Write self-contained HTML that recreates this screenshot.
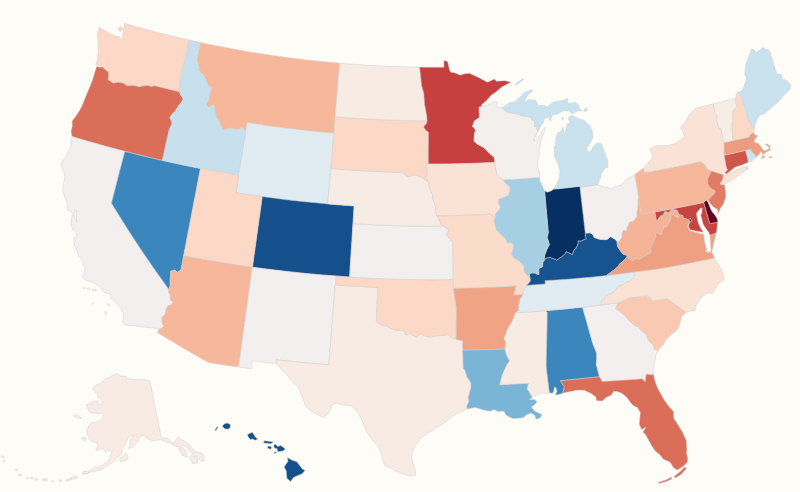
<!DOCTYPE html>
<html><head><meta charset="utf-8"><title>US map</title>
<style>
html,body{margin:0;padding:0;background:#fdfcf7;}
body{width:800px;height:492px;overflow:hidden;font-family:"Liberation Sans",sans-serif;}
svg{display:block}
path{stroke:#cfcfcf;stroke-width:0.5;stroke-linejoin:round}
</style></head><body>
<svg width="800" height="492" viewBox="0 0 800 492">
<rect width="800" height="492" fill="#fdfcf7" stroke="none"/>
<g>
<path d="M124.3,23.3L123.6,30.0L122.6,36.0L121.8,41.2L120.9,41.2L120.3,37.5L119.0,36.8L115.5,36.3L109.4,33.3L104.0,30.0L99.4,27.2L98.2,31.0L97.3,35.3L98.2,41.0L98.0,46.5L98.2,52.1L97.6,56.5L97.1,60.9L95.8,64.6L99.1,65.2L102.3,67.1L105.4,69.8L108.5,72.2L108.6,76.3L108.2,79.8L113.1,83.1L118.4,82.2L123.3,83.0L127.1,85.7L134.1,85.5L138.9,86.8L142.9,86.1L146.9,85.4L151.7,86.4L154.4,85.8L160.6,87.3L166.8,88.8L173.0,90.2L179.2,91.7L179.2,89.5L179.9,86.9L179.4,84.1L181.4,75.3L183.4,66.4L185.4,57.6L187.4,48.8L189.3,40.0L182.8,38.5L176.3,37.0L169.7,35.4L163.2,33.8L156.7,32.2L150.2,30.5L143.7,28.7L137.2,27.0L130.8,25.1ZM118.2,28.2L121.5,26.6L122.6,28.8L121.2,31.3L118.8,30.6Z" fill="#fbd9c6"/>
<path d="M96.8,66.3L99.7,67.2L102.3,67.1L105.4,69.8L108.5,72.2L108.6,76.3L108.2,79.8L113.1,83.1L118.4,82.2L123.3,83.0L127.1,85.7L134.1,85.5L138.9,86.8L142.9,86.1L146.9,85.4L151.7,86.4L154.4,85.8L160.6,87.3L166.8,88.8L173.0,90.2L179.2,91.7L180.4,94.4L182.1,96.8L183.1,99.7L181.5,102.1L179.0,105.3L176.1,109.6L175.0,111.7L172.7,113.3L169.8,117.6L171.9,121.7L171.8,124.4L169.5,128.8L167.7,136.7L165.9,144.6L164.2,152.5L162.4,160.5L154.8,158.7L147.2,156.9L139.6,155.1L132.1,153.2L124.5,151.3L117.0,149.3L109.4,147.3L101.9,145.3L94.4,143.1L86.9,141.0L79.5,138.8L72.0,136.5L71.0,131.5L72.3,126.4L72.1,120.9L75.7,116.3L79.3,110.9L82.3,105.3L84.5,99.5L87.2,92.9L89.6,87.2L91.9,81.4L93.6,76.4L95.3,70.5Z" fill="#db6e59"/>
<path d="M72.0,136.5L70.8,140.8L70.8,146.4L67.9,152.7L65.9,157.0L61.4,162.3L61.1,165.7L63.5,170.8L64.9,176.2L64.0,181.5L62.6,190.4L64.9,197.6L68.0,204.1L66.9,209.3L70.2,211.2L72.9,214.4L74.2,213.7L75.6,210.9L76.9,211.3L76.1,214.7L76.5,219.5L77.2,222.1L76.1,220.9L74.6,217.1L74.1,215.1L72.6,215.2L71.3,219.9L71.2,225.4L73.4,230.3L76.9,233.5L76.6,237.1L74.2,237.7L73.6,242.7L76.2,249.0L78.8,255.8L83.1,261.6L82.6,264.6L85.3,267.3L84.4,271.5L82.7,277.0L84.6,279.9L91.2,281.4L95.2,283.5L100.2,287.2L102.3,290.8L106.2,293.2L110.4,294.1L110.8,298.7L113.6,299.8L116.7,303.4L119.5,306.6L123.0,312.2L123.2,318.6L122.9,321.8L124.1,324.6L131.2,325.5L138.2,326.4L145.3,327.2L152.4,328.0L159.5,328.7L161.0,328.8L163.6,326.6L162.3,323.6L161.9,320.5L162.1,316.9L165.2,313.9L166.3,308.7L168.3,305.8L170.6,305.0L173.2,302.8L170.3,299.5L170.2,294.9L168.6,291.9L168.7,289.2L161.9,279.8L155.2,270.3L148.6,260.8L142.1,251.2L135.8,241.7L129.5,232.1L123.4,222.4L117.4,212.8L111.4,203.1L113.7,194.5L115.9,185.8L118.1,177.2L120.3,168.6L122.6,160.0L124.8,151.4L118.2,149.7L111.5,147.9L104.9,146.1L98.3,144.2L91.7,142.4L85.1,140.5L78.6,138.5ZM85.2,288.2L84.8,288.6L84.0,288.6L83.3,288.3L83.0,287.8L83.4,287.4L84.2,287.4L84.9,287.7ZM90.2,289.2L89.6,289.8L88.4,289.9L87.4,289.4L87.0,288.6L87.6,288.0L88.8,287.9L89.8,288.4ZM96.7,290.3L95.9,290.9L94.2,290.9L92.5,290.4L91.9,289.7L92.7,289.1L94.4,289.1L96.1,289.6ZM93.7,303.7L93.4,304.0L92.7,304.0L92.2,303.6L92.1,303.1L92.4,302.8L93.1,302.8L93.6,303.2ZM110.1,306.0L109.3,306.0L108.2,305.3L107.3,304.3L107.1,303.6L107.9,303.6L109.0,304.3L109.9,305.3ZM106.3,314.9L105.7,314.5L105.0,313.3L104.8,312.0L105.1,311.3L105.7,311.7L106.4,312.9L106.6,314.2Z" fill="#f2efee"/>
<path d="M124.8,151.4L132.3,153.3L139.8,155.2L147.4,157.0L154.9,158.8L162.5,160.5L170.1,162.2L177.7,163.8L185.3,165.4L192.9,166.9L200.5,168.4L198.6,178.1L196.8,187.8L194.9,197.5L193.0,207.2L191.2,217.0L189.3,226.7L187.4,236.4L185.6,246.1L183.7,255.8L182.3,262.8L181.0,269.8L177.5,272.4L175.0,270.1L170.7,271.1L170.5,275.0L170.2,279.5L170.2,285.9L168.7,289.2L161.9,279.8L155.2,270.3L148.6,260.8L142.1,251.2L135.8,241.7L129.5,232.1L123.4,222.4L117.4,212.8L111.4,203.1L113.7,194.5L115.9,185.8L118.1,177.2L120.3,168.6L122.6,160.0Z" fill="#3b86bc"/>
<path d="M189.3,40.0L195.0,41.3L200.7,42.5L198.9,51.0L197.0,59.6L199.2,68.1L199.0,70.2L203.1,74.3L206.1,79.4L207.8,84.6L209.5,86.7L212.5,86.9L209.6,94.4L209.2,99.7L206.3,104.6L208.3,107.3L213.9,104.4L215.2,110.8L217.0,118.0L219.3,121.3L221.6,127.8L223.1,129.9L230.5,127.7L236.6,129.5L240.5,128.7L241.2,126.9L243.5,127.9L245.7,131.9L244.4,140.5L243.0,149.2L241.6,157.8L240.2,166.5L238.8,175.1L231.1,173.9L223.5,172.6L215.8,171.2L208.1,169.8L200.5,168.4L192.8,166.9L185.2,165.4L177.6,163.8L170.0,162.1L162.4,160.5L164.2,152.5L165.9,144.6L167.7,136.7L169.5,128.8L171.8,124.4L171.9,121.7L169.8,117.6L172.7,113.3L175.0,111.7L176.1,109.6L179.0,105.3L181.5,102.1L183.1,99.7L182.1,96.8L180.4,94.4L179.2,91.7L179.2,89.5L179.9,86.9L179.4,84.1L181.4,75.3L183.4,66.4L185.4,57.6L187.4,48.8Z" fill="#c8e0ed"/>
<path d="M200.7,42.5L207.2,43.9L213.8,45.2L220.4,46.5L226.9,47.8L233.5,49.0L240.1,50.2L246.7,51.4L253.3,52.5L259.9,53.5L266.6,54.6L273.2,55.5L279.8,56.5L286.5,57.4L293.1,58.3L299.7,59.1L306.4,59.9L313.1,60.6L319.7,61.3L326.4,62.0L333.1,62.6L339.7,63.2L338.9,73.2L338.0,83.1L337.2,93.1L336.3,103.1L335.5,113.1L334.6,123.2L333.8,133.2L326.5,132.6L319.3,131.9L312.1,131.2L304.8,130.4L297.6,129.6L290.4,128.7L283.2,127.8L276.0,126.9L268.8,125.9L261.6,124.8L254.4,123.8L247.2,122.6L245.7,131.9L243.5,127.9L241.2,126.9L240.5,128.7L236.6,129.5L230.5,127.7L223.1,129.9L221.6,127.8L219.3,121.3L217.0,118.0L215.2,110.8L213.9,104.4L208.3,107.3L206.3,104.6L209.2,99.7L209.6,94.4L212.5,86.9L209.5,86.7L207.8,84.6L206.1,79.4L203.1,74.3L199.0,70.2L199.2,68.1L197.0,59.6L198.9,51.0Z" fill="#f6b79b"/>
<path d="M247.2,122.6L254.4,123.8L261.6,124.8L268.8,125.9L276.0,126.9L283.2,127.8L290.4,128.7L297.6,129.6L304.8,130.4L312.1,131.2L319.3,131.9L326.5,132.6L333.8,133.2L332.9,143.3L332.1,153.4L331.2,163.4L330.4,173.6L329.5,183.7L328.6,193.8L327.8,203.9L320.1,203.2L312.4,202.5L304.8,201.7L297.1,200.9L289.5,200.1L281.8,199.2L274.2,198.2L266.5,197.2L258.9,196.1L251.3,195.0L243.6,193.9L236.0,192.7L237.6,182.7L239.2,172.6L240.8,162.6L242.4,152.6L244.0,142.6L245.6,132.6Z" fill="#e1ecf2"/>
<path d="M262.2,196.6L269.8,197.6L277.4,198.6L285.1,199.6L292.7,200.4L300.4,201.3L308.1,202.1L315.7,202.8L323.4,203.5L331.1,204.2L338.8,204.8L346.4,205.4L354.1,205.9L353.5,216.0L352.8,226.2L352.2,236.3L351.5,246.5L350.9,256.7L350.2,266.8L349.6,277.0L341.5,276.4L333.3,275.8L325.2,275.2L317.1,274.5L309.0,273.8L300.9,273.0L292.8,272.1L284.7,271.2L276.6,270.3L268.5,269.3L260.5,268.3L252.4,267.2L253.8,257.1L255.2,247.0L256.6,236.9L258.0,226.8L259.4,216.8L260.8,206.7Z" fill="#16508c"/>
<path d="M200.5,168.4L208.1,169.8L215.8,171.2L223.5,172.6L231.1,173.9L238.8,175.1L237.4,183.9L236.0,192.7L242.5,193.7L249.1,194.7L255.6,195.7L262.2,196.6L260.8,206.7L259.4,216.8L258.0,226.8L256.6,236.9L255.2,247.0L253.8,257.1L252.4,267.2L244.7,266.1L237.1,265.0L229.4,263.8L221.8,262.6L214.2,261.3L206.5,260.0L198.9,258.7L191.3,257.3L183.7,255.8L185.6,246.1L187.4,236.4L189.3,226.7L191.2,217.0L193.0,207.2L194.9,197.5L196.8,187.8L198.6,178.1Z" fill="#fbd9c6"/>
<path d="M183.7,255.8L191.3,257.3L198.9,258.7L206.5,260.0L214.2,261.3L221.8,262.6L229.4,263.8L237.1,265.0L244.7,266.1L252.4,267.2L251.0,277.2L249.6,287.2L248.3,297.2L246.9,307.2L245.5,317.2L244.1,327.2L242.7,337.1L241.4,347.1L240.0,357.1L238.6,367.0L231.1,366.0L223.6,364.9L216.1,363.7L208.6,362.6L201.2,358.4L193.8,354.2L186.4,349.9L179.1,345.6L171.8,341.2L164.6,336.9L157.4,332.4L159.5,328.7L161.0,328.8L163.6,326.6L162.3,323.6L161.9,320.5L162.1,316.9L165.2,313.9L166.3,308.7L168.3,305.8L170.6,305.0L173.2,302.8L170.3,299.5L170.2,294.9L168.6,291.9L168.7,289.2L170.2,285.9L170.2,279.5L170.5,275.0L170.7,271.1L175.0,270.1L177.5,272.4L181.0,269.8L182.3,262.8Z" fill="#f6b79b"/>
<path d="M252.4,267.2L260.0,268.2L267.6,269.2L275.2,270.1L282.9,271.0L290.5,271.9L298.1,272.7L305.8,273.5L313.4,274.2L321.1,274.9L328.7,275.5L336.4,276.1L335.7,285.0L335.1,284.9L334.4,294.9L333.6,304.9L332.8,314.9L332.0,324.9L331.3,334.8L330.5,344.8L329.7,354.7L328.9,364.7L320.1,364.0L311.3,363.3L302.5,362.5L293.7,361.6L284.9,360.7L276.1,359.8L277.0,363.8L268.7,362.8L260.4,361.8L252.1,360.8L251.1,368.7L244.9,367.9L238.6,367.0L240.0,357.1L241.4,347.1L242.7,337.1L244.1,327.2L245.5,317.2L246.9,307.2L248.3,297.2L249.6,287.2L251.0,277.2Z" fill="#f2efee"/>
<path d="M335.1,284.9L342.2,285.4L349.4,285.9L356.5,286.3L363.6,286.7L370.7,287.1L377.8,287.4L377.4,296.0L377.1,304.7L376.7,313.3L376.3,321.9L382.0,325.3L387.7,326.3L391.3,328.9L396.7,330.3L403.5,330.4L405.6,334.9L409.7,333.2L416.5,337.4L420.2,333.9L425.7,336.3L431.1,337.2L436.9,335.7L444.2,335.4L447.8,334.4L452.2,337.8L456.2,339.3L462.6,340.8L462.8,350.2L463.0,359.2L463.2,368.3L465.3,370.9L467.0,377.1L470.8,382.6L471.0,387.6L468.2,397.4L469.0,401.8L466.8,405.4L467.1,408.9L458.6,412.6L453.2,415.7L447.9,420.2L444.8,422.8L439.8,425.8L434.8,428.7L427.8,433.1L420.7,438.3L417.5,442.3L414.3,447.0L412.2,452.3L411.8,458.4L413.3,464.6L415.3,470.7L415.6,474.9L409.9,475.9L400.4,472.9L394.7,470.1L389.0,467.2L384.6,465.6L382.2,457.7L380.6,452.3L378.9,447.0L373.7,441.5L367.0,432.8L364.2,425.3L361.4,419.2L358.6,413.2L351.4,405.7L346.4,405.2L341.4,404.8L337.0,402.9L331.8,405.0L328.2,413.4L323.6,417.8L316.9,414.3L311.0,410.8L305.5,406.1L301.9,395.7L297.9,386.1L292.2,381.6L286.2,373.7L281.4,369.8L277.4,364.4L277.0,363.8L276.1,359.8L284.9,360.7L293.7,361.6L302.5,362.5L311.3,363.3L320.1,364.0L328.9,364.7L329.7,354.7L330.5,344.8L331.3,334.8L332.0,324.9L332.8,314.9L333.6,304.9L334.4,294.9Z" fill="#f8ebe4"/>
<path d="M336.4,276.1L344.7,276.7L353.0,277.2L361.4,277.7L369.7,278.1L378.1,278.5L386.4,278.8L394.8,279.1L403.1,279.3L411.5,279.5L419.8,279.6L428.2,279.7L436.5,279.7L444.9,279.6L453.2,279.5L453.4,288.4L454.9,298.3L456.4,308.2L456.3,318.5L456.2,328.9L456.2,339.3L452.2,337.8L447.8,334.4L444.2,335.4L436.9,335.7L431.1,337.2L425.7,336.3L420.2,333.9L416.5,337.4L409.7,333.2L405.6,334.9L403.5,330.4L396.7,330.3L391.3,328.9L387.7,326.3L382.0,325.3L376.3,321.9L376.7,313.3L377.1,304.7L377.4,296.0L377.8,287.4L370.8,287.1L363.8,286.7L356.7,286.3L349.7,285.9L342.7,285.5L335.7,285.0Z" fill="#fbd9c6"/>
<path d="M353.0,223.6L360.5,224.1L368.0,224.5L375.5,224.9L383.0,225.2L390.6,225.5L398.1,225.7L405.6,225.9L413.1,226.0L420.7,226.1L428.2,226.2L435.7,226.2L443.2,226.2L446.7,228.3L449.2,230.2L446.1,234.0L448.9,238.2L452.8,241.9L452.9,251.3L453.0,260.7L453.1,270.1L453.2,279.5L445.3,279.6L437.3,279.7L429.3,279.7L421.3,279.6L413.4,279.5L405.4,279.4L397.4,279.2L389.4,278.9L381.5,278.6L373.5,278.3L365.5,277.9L357.6,277.5L349.6,277.0L350.2,268.1L350.7,259.2L351.3,250.3L351.9,241.4L352.4,232.5Z" fill="#f2efee"/>
<path d="M330.8,168.5L337.9,169.1L345.0,169.6L352.1,170.1L359.2,170.6L366.3,171.0L373.4,171.4L380.5,171.7L387.7,172.0L394.8,172.2L401.9,172.4L404.4,174.3L408.2,176.7L412.8,175.3L416.0,175.0L421.1,177.1L424.9,179.9L428.3,181.9L429.4,187.1L430.7,190.6L432.7,195.1L432.7,198.6L435.0,203.8L435.6,208.4L436.0,214.1L437.0,215.9L440.0,221.4L441.7,225.3L443.2,226.2L435.7,226.2L428.2,226.2L420.7,226.1L413.1,226.0L405.6,225.9L398.1,225.7L390.6,225.5L383.0,225.2L375.5,224.9L368.0,224.5L360.5,224.1L353.0,223.6L353.6,214.8L354.1,205.9L347.5,205.4L340.9,205.0L334.4,204.5L327.8,203.9L328.5,195.1L329.3,186.2L330.0,177.3Z" fill="#f7ece5"/>
<path d="M335.2,116.7L342.2,117.3L349.3,117.8L356.4,118.3L363.4,118.7L370.5,119.1L377.6,119.5L384.6,119.8L391.7,120.1L398.8,120.3L405.9,120.5L412.9,120.7L420.0,120.8L427.1,120.8L426.5,123.3L423.6,126.8L425.6,130.2L428.4,132.1L428.4,142.7L428.3,153.4L428.3,164.0L426.3,164.0L426.6,167.5L427.3,172.0L426.0,177.6L428.3,181.9L424.9,179.9L421.1,177.1L416.0,175.0L412.8,175.3L408.2,176.7L404.4,174.3L401.9,172.4L394.8,172.2L387.7,172.0L380.5,171.7L373.4,171.4L366.3,171.0L359.2,170.6L352.1,170.1L345.0,169.6L337.9,169.1L330.8,168.5L331.7,158.1L332.6,147.7L333.4,137.4L334.3,127.0Z" fill="#fbd9c6"/>
<path d="M339.7,63.2L346.4,63.8L353.0,64.3L359.7,64.7L366.3,65.2L373.0,65.5L379.6,65.9L386.3,66.2L392.9,66.5L399.6,66.7L406.2,66.9L412.9,67.0L419.6,67.1L420.6,75.9L421.7,86.0L423.8,93.4L424.2,98.8L424.5,104.3L425.6,109.7L426.6,115.0L427.1,120.8L420.0,120.8L412.9,120.7L405.9,120.5L398.8,120.3L391.7,120.1L384.6,119.8L377.6,119.5L370.5,119.1L363.4,118.7L356.4,118.3L349.3,117.8L342.2,117.3L335.2,116.7L335.9,107.7L336.7,98.8L337.5,89.9L338.2,81.0L339.0,72.1Z" fill="#f8ebe4"/>
<path d="M419.6,67.1L425.7,67.2L431.8,67.2L437.9,67.2L443.9,67.2L443.9,60.5L446.2,60.9L447.8,61.9L449.2,68.8L450.5,72.0L455.2,73.1L460.0,75.1L464.7,73.8L469.4,73.3L475.4,76.0L479.0,77.7L483.2,79.9L487.5,82.2L494.5,79.0L496.4,81.2L500.8,80.9L505.3,80.7L510.1,82.1L511.3,82.0L506.5,84.5L501.7,87.0L496.3,91.7L490.9,95.5L486.3,100.7L481.3,105.1L482.4,106.3L479.1,107.3L479.5,117.5L474.5,120.9L472.5,126.2L475.5,129.7L474.4,135.0L474.0,141.2L477.5,144.3L483.9,147.4L489.1,153.0L494.2,157.2L494.9,162.5L487.5,162.8L480.1,163.1L472.7,163.4L465.3,163.6L457.9,163.8L450.5,163.9L443.1,164.0L435.7,164.0L428.3,164.0L428.3,153.4L428.4,142.7L428.4,132.1L425.6,130.2L423.6,126.8L426.5,123.3L427.1,120.8L426.6,115.0L425.6,109.7L424.5,104.3L424.2,98.8L423.8,93.4L421.7,86.0L420.6,75.9Z" fill="#c5403f"/>
<path d="M426.3,164.0L434.0,164.0L441.6,164.0L449.2,163.9L456.8,163.8L464.4,163.6L472.0,163.4L479.6,163.1L487.3,162.8L494.9,162.5L496.2,170.4L497.0,175.2L503.0,179.8L506.3,183.9L509.9,186.5L509.8,191.2L508.1,195.5L505.0,197.1L498.9,199.3L498.5,203.2L500.7,207.5L498.9,210.3L495.7,213.5L495.0,218.0L490.7,214.1L483.0,214.5L475.4,214.8L467.7,215.1L460.0,215.4L452.4,215.6L444.7,215.8L437.0,215.9L436.0,214.1L435.6,208.4L435.0,203.8L432.7,198.6L432.7,195.1L430.7,190.6L429.4,187.1L428.3,181.9L426.0,177.6L427.3,172.0L426.6,167.5Z" fill="#fae2d4"/>
<path d="M437.0,215.9L444.7,215.8L452.4,215.6L460.0,215.4L467.7,215.1L475.4,214.8L483.0,214.5L490.7,214.1L495.0,218.0L494.1,221.2L495.4,226.0L496.4,229.9L500.8,234.3L505.3,238.5L507.3,242.8L509.6,242.5L513.1,243.6L513.4,248.2L511.4,254.2L513.7,258.0L516.6,259.6L519.1,260.9L523.9,265.4L524.0,271.3L527.4,275.5L529.8,276.6L530.5,280.4L529.3,282.5L526.4,285.4L524.7,288.2L523.5,290.9L523.0,294.5L518.3,294.8L513.6,295.1L516.1,286.0L508.3,286.5L500.5,286.9L492.6,287.3L484.8,287.6L476.9,287.9L469.1,288.1L461.2,288.3L453.4,288.4L453.2,279.5L453.1,270.1L453.0,260.7L452.9,251.3L452.8,241.9L448.9,238.2L446.1,234.0L449.2,230.2L446.7,228.3L443.2,226.2L441.7,225.3L440.0,221.4Z" fill="#fbdbc9"/>
<path d="M453.4,288.4L461.2,288.3L469.1,288.1L476.9,287.9L484.8,287.6L492.6,287.3L500.5,286.9L508.3,286.5L516.1,286.0L513.6,295.1L518.3,294.8L523.0,294.5L519.8,300.1L518.8,305.5L518.8,310.3L515.6,312.8L513.7,317.4L512.1,321.6L507.9,328.4L506.0,333.9L504.0,338.4L505.7,341.9L505.0,349.0L496.6,349.4L488.1,349.7L479.7,349.9L471.2,350.1L462.8,350.2L462.6,340.8L456.2,339.3L456.2,328.9L456.3,318.5L456.4,308.2L454.9,298.3Z" fill="#f1a385"/>
<path d="M462.8,350.2L471.2,350.1L479.7,349.9L488.1,349.7L496.6,349.4L505.0,349.0L506.3,354.3L509.6,360.9L506.8,364.9L502.5,374.7L500.9,380.3L499.9,384.8L507.0,384.4L514.2,384.1L521.3,383.6L528.5,383.2L527.3,389.1L530.4,393.7L532.6,397.5L529.2,399.4L534.6,399.6L537.1,402.1L534.2,405.0L531.3,406.9L534.6,411.1L539.4,413.4L541.8,414.5L540.1,418.0L536.0,419.3L534.9,415.5L530.9,413.1L526.4,414.8L523.5,417.5L518.9,418.3L512.7,418.6L506.4,415.4L503.8,411.2L497.7,411.4L493.8,409.5L490.8,411.2L484.6,410.2L475.3,407.5L467.1,408.9L466.8,405.4L469.0,401.8L468.2,397.4L471.0,387.6L470.8,382.6L467.0,377.1L465.3,370.9L463.2,368.3L463.0,359.2Z" fill="#7ab5d5"/>
<path d="M545.7,310.7L547.2,312.5L547.1,323.2L546.9,333.9L546.6,344.6L546.4,355.3L546.2,365.9L547.2,374.9L548.3,383.9L549.4,392.8L547.1,393.4L541.7,392.9L538.8,393.7L535.1,395.2L532.6,397.5L530.4,393.7L527.3,389.1L528.5,383.2L521.3,383.6L514.2,384.1L507.0,384.4L499.9,384.8L500.9,380.3L502.5,374.7L506.8,364.9L509.6,360.9L506.3,354.3L505.0,349.0L505.7,341.9L504.0,338.4L506.0,333.9L507.9,328.4L512.1,321.6L513.7,317.4L515.6,312.8L523.1,312.4L530.6,311.9L538.2,311.3Z" fill="#f8ebe4"/>
<path d="M582.6,307.2L585.2,316.4L587.8,325.6L590.4,334.9L593.0,344.1L596.7,353.0L596.7,359.2L596.3,364.6L598.0,370.7L599.5,376.7L591.7,377.6L583.9,378.4L576.1,379.2L568.3,380.0L560.5,380.7L564.1,386.6L563.6,390.2L562.8,393.3L558.7,394.5L555.2,395.0L556.9,391.7L556.3,388.2L554.5,386.9L553.8,391.1L552.4,393.3L549.4,392.8L548.3,383.9L547.2,374.9L546.2,365.9L546.4,355.3L546.6,344.6L546.9,333.9L547.1,323.2L547.2,312.5L545.7,310.7L553.1,310.1L560.4,309.4L567.8,308.7L575.2,307.9Z" fill="#3b86bc"/>
<path d="M582.6,307.2L588.7,306.5L594.9,305.8L601.0,305.0L606.7,304.3L612.4,303.5L618.2,302.8L615.5,308.5L620.2,311.5L625.3,316.2L628.8,320.2L634.7,325.6L638.6,326.8L642.2,331.7L646.4,334.3L648.5,340.6L653.3,345.2L654.4,349.2L658.3,350.2L655.7,355.6L655.0,361.1L653.2,367.1L653.6,371.2L653.5,374.6L651.1,374.8L646.4,374.1L645.5,378.3L645.3,382.1L642.3,378.8L634.3,379.4L626.3,380.0L618.2,380.6L610.2,381.1L602.2,381.6L599.5,376.7L598.0,370.7L596.3,364.6L596.7,359.2L596.7,353.0L593.0,344.1L590.4,334.9L587.8,325.6L585.2,316.4Z" fill="#f2efee"/>
<path d="M653.5,374.6L655.2,381.7L657.8,388.4L661.0,394.2L664.2,399.9L669.3,407.1L673.5,411.6L673.8,418.3L678.3,425.3L682.7,432.5L686.4,440.8L687.0,451.4L686.2,451.7L687.8,458.3L687.5,462.0L683.3,466.2L677.5,470.0L673.7,468.0L670.0,462.0L663.3,459.2L660.0,455.0L655.0,450.8L651.7,445.8L648.7,440.4L645.8,435.0L643.0,432.0L646.0,427.0L641.7,429.7L639.2,424.2L639.4,422.3L640.3,412.4L637.3,407.5L633.5,405.7L630.9,403.0L626.5,397.0L622.2,393.5L617.3,391.5L613.5,391.4L611.6,394.9L605.8,397.7L602.3,401.0L596.6,400.7L595.7,396.7L590.7,393.2L584.2,390.3L578.1,390.1L572.9,391.0L567.6,392.0L562.8,393.3L563.6,390.2L564.1,386.6L560.5,380.7L568.3,380.0L576.1,379.2L583.9,378.4L591.7,377.6L599.5,376.7L602.2,381.6L610.2,381.1L618.2,380.6L626.3,380.0L634.3,379.4L642.3,378.8L645.3,382.1L645.5,378.3L646.4,374.1L651.1,374.8ZM685.0,466.7L686.3,468.7L680.8,474.7L675.3,478.0L674.2,476.3L679.7,472.0ZM671.7,477.0L665.8,480.0L658.7,482.2L658.7,483.5L665.8,481.7L671.7,479.0Z" fill="#db6e59"/>
<path d="M618.2,302.8L623.1,300.8L629.2,297.6L635.1,297.1L641.1,296.4L647.1,295.8L647.4,297.7L648.8,296.4L651.4,298.9L651.4,301.1L659.5,299.9L667.5,298.7L676.9,305.6L686.4,312.3L681.9,316.0L679.2,325.6L677.6,329.5L670.4,335.2L665.3,340.6L663.7,344.4L660.4,347.7L658.3,350.2L654.4,349.2L653.3,345.2L648.5,340.6L646.4,334.3L642.2,331.7L638.6,326.8L634.7,325.6L628.8,320.2L625.3,316.2L620.2,311.5L615.5,308.5Z" fill="#f9c9b1"/>
<path d="M634.2,271.9L642.0,271.0L649.8,270.0L657.6,269.0L664.6,267.8L671.5,266.6L678.4,265.3L685.3,264.0L692.6,262.5L699.9,261.0L707.2,259.5L714.6,257.9L717.5,263.6L722.1,270.2L724.2,279.8L718.4,283.4L712.5,293.8L709.8,292.5L704.3,294.5L699.5,300.0L695.6,306.2L694.9,310.9L691.3,310.7L686.4,312.3L676.9,305.6L667.5,298.7L659.5,299.9L651.4,301.1L651.4,298.9L648.8,296.4L647.4,297.7L647.1,295.8L641.1,296.4L635.1,297.1L629.2,297.6L623.1,300.8L618.2,302.8L612.4,303.5L606.7,304.3L601.0,305.0L600.8,301.4L604.1,299.2L605.8,295.4L611.3,293.5L614.5,290.7L618.8,285.6L623.0,284.7L625.5,282.5L630.3,280.9L634.6,276.1Z" fill="#fae2d4"/>
<path d="M606.4,275.6L613.4,274.7L620.3,273.8L627.3,272.9L634.2,271.9L634.6,276.1L630.3,280.9L625.5,282.5L623.0,284.7L618.8,285.6L614.5,290.7L611.3,293.5L605.8,295.4L604.1,299.2L600.8,301.4L601.0,305.0L594.9,305.8L588.7,306.5L582.6,307.2L575.2,307.9L567.8,308.7L560.4,309.4L553.1,310.1L545.7,310.7L538.2,311.3L530.6,311.9L523.1,312.4L515.6,312.8L518.8,310.3L518.8,305.5L519.8,300.1L523.0,294.5L523.5,290.9L524.7,288.2L526.4,285.4L532.7,284.9L539.0,284.4L545.3,283.9L545.0,280.7L552.3,280.3L559.7,279.8L567.0,279.3L574.0,278.7L581.0,278.1L588.0,277.5L594.1,276.9L600.2,276.3Z" fill="#e1ecf2"/>
<path d="M529.8,276.6L529.3,274.8L530.7,272.9L535.2,273.1L537.1,274.2L538.9,274.3L538.7,268.4L542.5,266.8L542.7,262.7L543.9,260.8L545.5,258.3L550.0,257.2L556.7,260.0L561.3,256.9L564.5,254.4L566.3,251.6L572.3,254.5L574.2,249.5L575.6,248.8L577.9,244.1L578.2,240.8L581.0,241.0L586.2,238.6L585.2,236.0L585.3,233.3L589.6,232.8L592.5,233.9L594.3,237.6L600.4,239.5L606.9,239.6L610.7,236.7L615.5,239.5L617.0,241.4L617.6,246.6L620.7,251.2L622.8,253.9L627.7,255.7L623.8,260.6L619.6,263.9L618.6,266.0L613.9,270.1L606.4,275.6L600.2,276.3L594.1,276.9L588.0,277.5L581.0,278.1L574.0,278.7L567.0,279.3L559.7,279.8L552.3,280.3L545.0,280.7L545.3,283.9L539.0,284.4L532.7,284.9L526.4,285.4L529.3,282.5L530.5,280.4Z" fill="#17538f"/>
<path d="M638.6,198.1L637.5,199.9L638.1,203.3L637.6,208.6L636.8,212.7L636.8,216.3L633.1,221.4L629.7,221.7L628.6,224.4L626.6,228.1L626.7,230.5L623.5,230.0L621.9,233.2L621.8,237.5L618.9,241.2L617.0,241.4L617.6,246.6L620.7,251.2L622.8,253.9L627.7,255.7L628.7,258.6L632.6,261.1L636.6,258.0L638.7,259.5L643.5,257.1L648.1,254.2L650.7,252.8L651.4,250.4L650.1,249.7L653.2,242.8L655.2,238.1L656.2,232.2L658.9,234.1L661.4,234.5L662.2,233.1L664.2,226.6L666.2,227.3L669.4,222.4L671.0,218.5L670.8,213.8L675.7,216.3L678.8,218.1L679.5,214.7L678.2,212.6L677.0,210.1L672.3,209.2L669.7,211.1L669.2,212.5L664.8,211.5L662.7,215.6L660.9,215.4L656.5,221.1L655.0,211.9L648.1,213.1L641.2,214.3L639.9,206.2Z" fill="#f5b498"/>
<path d="M606.4,275.6L613.9,270.1L618.6,266.0L619.6,263.9L623.8,260.6L627.7,255.7L628.7,258.6L632.6,261.1L636.6,258.0L638.7,259.5L643.5,257.1L648.1,254.2L650.7,252.8L651.4,250.4L650.1,249.7L653.2,242.8L655.2,238.1L656.2,232.2L658.9,234.1L661.4,234.5L662.2,233.1L664.2,226.6L666.2,227.3L669.4,222.4L671.0,218.5L670.8,213.8L675.7,216.3L678.8,218.1L679.5,214.7L682.4,215.0L683.6,217.9L687.0,219.0L689.0,219.9L690.6,222.1L688.0,223.7L687.8,227.2L690.0,230.7L695.9,232.3L703.9,234.6L704.1,238.9L705.0,243.8L706.2,248.7L707.8,252.3L706.9,250.9L704.8,250.8L707.3,252.5L711.4,251.6L714.6,257.9L707.2,259.5L699.9,261.0L692.6,262.5L685.3,264.0L678.4,265.3L671.5,266.6L664.6,267.8L657.6,269.0L649.8,270.0L642.0,271.0L634.2,271.9L627.3,272.9L620.3,273.8L613.4,274.7ZM716.3,232.8L713.5,243.8L712.0,251.7L710.7,253.3L711.1,249.9L710.5,243.8L709.9,235.2Z" fill="#ef9f82"/>
<path d="M655.0,211.9L662.0,210.7L669.0,209.4L675.9,208.1L682.9,206.7L689.9,205.3L696.8,203.9L703.7,202.4L705.8,209.5L707.8,216.6L709.9,223.7L717.8,222.1L717.8,221.2L716.6,231.6L716.3,232.8L709.9,235.2L708.7,232.2L706.2,229.1L703.2,224.3L702.0,219.4L700.7,215.1L701.7,213.3L702.2,208.2L700.5,208.2L696.5,213.3L697.1,218.2L698.3,223.0L700.7,228.5L703.4,232.2L695.9,231.1L690.4,229.8L688.5,227.0L688.8,223.7L690.6,222.1L691.9,220.0L689.8,218.4L689.0,219.9L687.0,219.0L683.6,217.9L682.4,215.0L679.5,214.7L678.2,212.6L677.0,210.1L672.3,209.2L669.7,211.1L669.2,212.5L664.8,211.5L662.7,215.6L660.9,215.4L656.5,221.1Z" fill="#c74440"/>
<path d="M689.0,219.9L689.8,218.4L691.9,220.0L690.6,222.1Z" fill="#053061"/>
<path d="M703.7,202.4L706.2,200.1L707.8,201.7L710.5,208.4L712.0,211.5L715.4,215.7L717.2,218.8L717.8,221.2L717.8,222.1L709.9,223.7L707.8,216.6L705.8,209.5Z" fill="#67001f"/>
<path d="M634.7,174.6L639.9,170.7L643.6,167.9L644.4,172.6L651.5,171.4L658.5,170.1L665.6,168.8L672.6,167.4L679.6,166.0L686.6,164.6L693.6,163.1L700.6,161.6L701.6,162.3L705.2,164.7L706.1,167.6L708.6,169.8L711.6,170.8L709.1,176.1L707.6,178.8L707.7,183.9L710.7,188.1L715.2,191.1L714.6,193.1L711.5,196.5L708.3,200.0L707.8,201.7L706.2,200.1L703.7,202.4L696.8,203.9L689.9,205.3L682.9,206.7L675.9,208.1L669.0,209.4L662.0,210.7L655.0,211.9L648.1,213.1L641.2,214.3L639.9,206.2L638.6,198.1L637.3,190.3L636.0,182.4Z" fill="#f6b79b"/>
<path d="M711.6,170.8L717.4,172.7L723.3,174.6L723.2,177.4L722.8,180.2L722.4,181.2L720.8,182.5L720.9,184.7L724.5,184.4L725.3,190.6L725.8,196.9L723.2,204.6L721.2,207.1L717.9,213.7L717.6,209.4L713.3,207.0L709.6,202.7L708.3,200.0L711.5,196.5L714.6,193.1L715.2,191.1L710.7,188.1L707.7,183.9L707.6,178.8L709.1,176.1Z" fill="#e27b63"/>
<path d="M643.6,167.9L648.2,163.1L651.3,158.8L652.9,155.2L649.6,149.0L656.1,145.8L661.9,145.7L667.8,145.6L675.2,143.7L680.8,139.3L684.3,137.0L682.7,130.9L680.3,127.3L685.1,122.5L688.9,115.1L694.9,108.7L697.0,107.9L702.5,106.5L708.1,105.2L713.7,103.8L714.8,111.9L717.3,116.7L716.6,120.5L718.0,124.8L718.8,128.2L720.9,128.6L721.7,133.0L724.1,142.4L724.1,148.8L724.2,155.2L725.4,161.9L726.6,168.5L727.8,169.7L725.0,172.4L726.5,173.9L725.3,176.5L723.7,178.2L722.9,180.2L722.8,180.2L723.2,177.4L723.3,174.6L717.4,172.7L711.6,170.8L708.6,169.8L706.1,167.6L705.2,164.7L701.6,162.3L700.6,161.6L693.6,163.1L686.6,164.6L679.6,166.0L672.6,167.4L665.6,168.8L658.5,170.1L651.5,171.4L644.4,172.6ZM725.2,175.6L730.2,173.0L735.3,170.5L740.4,168.2L743.4,166.9L748.5,166.6L745.5,168.4L749.0,168.2L745.5,170.5L740.4,174.0L735.3,177.8L730.2,181.1L725.2,183.9L721.3,184.9L720.6,183.2L722.1,180.6Z" fill="#fae3d6"/>
<path d="M724.2,155.2L731.3,153.7L738.5,152.0L745.6,150.4L747.0,155.5L748.3,160.7L748.0,162.6L745.0,163.8L742.0,165.1L735.0,167.2L731.6,169.9L726.5,173.9L725.0,172.4L727.8,169.7L726.6,168.5L725.4,161.9Z" fill="#d0554a"/>
<path d="M745.6,150.4L750.9,149.0L751.5,151.1L752.5,152.6L754.7,154.2L756.4,157.1L755.7,158.0L754.5,158.5L753.2,156.5L753.4,158.4L752.6,160.7L748.0,162.6L748.3,160.7L747.0,155.5Z" fill="#cde3ee"/>
<path d="M724.1,142.4L729.2,141.4L734.2,140.3L741.6,138.7L748.9,137.0L749.6,135.2L751.8,133.3L754.0,132.5L754.9,135.0L757.8,135.6L755.3,139.0L754.2,142.1L755.6,142.6L758.6,143.6L761.8,147.7L763.1,150.3L765.9,150.5L769.4,148.4L767.8,146.2L765.9,144.7L765.4,143.9L767.5,143.9L769.7,146.1L770.5,150.1L766.3,152.0L762.3,155.1L762.2,152.8L760.7,151.3L758.9,154.6L756.4,157.1L754.7,154.2L752.5,152.6L751.5,151.1L750.9,149.0L745.6,150.4L738.5,152.0L731.3,153.7L724.2,155.2L724.1,148.8ZM760.9,158.6L763.2,155.6L765.5,156.5L763.9,157.8ZM768.5,157.5L770.9,156.3L772.2,157.0L770.7,158.0Z" fill="#ee9c7f"/>
<path d="M713.7,103.8L719.2,102.4L724.8,101.0L730.3,99.6L735.9,98.1L735.8,102.9L737.3,105.8L732.5,111.6L733.1,117.3L732.0,123.1L732.2,129.4L732.6,133.4L732.6,138.5L734.2,140.3L729.2,141.4L724.1,142.4L721.7,133.0L720.9,128.6L718.8,128.2L718.0,124.8L716.6,120.5L717.3,116.7L714.8,111.9Z" fill="#f6ede7"/>
<path d="M735.9,98.1L736.2,94.6L737.0,92.6L739.6,91.9L741.4,97.3L743.2,102.8L745.5,110.0L747.7,117.2L748.9,121.1L752.2,126.0L754.5,128.7L754.0,132.5L751.8,133.3L749.6,135.2L748.9,137.0L741.6,138.7L734.2,140.3L732.6,138.5L732.6,133.4L732.2,129.4L732.0,123.1L733.1,117.3L732.5,111.6L737.3,105.8L735.8,102.9Z" fill="#fbd9c6"/>
<path d="M754.5,128.7L755.2,123.8L757.6,118.1L760.6,114.7L763.8,114.2L766.4,111.9L770.2,109.0L772.7,106.4L775.4,104.2L778.5,101.6L781.9,97.6L785.9,93.2L789.4,89.9L791.1,85.7L787.2,80.8L782.9,79.4L781.3,74.3L776.7,73.9L775.7,70.5L772.7,60.6L769.7,50.8L762.4,47.7L759.4,50.2L756.3,52.8L753.5,49.6L751.3,49.1L748.6,56.8L745.9,64.6L744.7,74.0L746.5,78.1L745.6,82.0L742.1,90.3L739.6,91.9L741.4,97.3L743.2,102.8L745.5,110.0L747.7,117.2L748.9,121.1L752.2,126.0Z" fill="#cae1ee"/>
<path d="M580.0,187.4L585.8,186.5L591.7,185.6L597.6,184.6L601.0,185.9L604.7,187.4L607.5,186.8L608.0,188.2L610.0,188.8L614.7,186.9L620.8,185.4L625.6,180.0L631.3,176.6L634.7,174.6L636.0,182.4L637.3,190.3L638.6,198.1L637.5,199.9L638.1,203.3L637.6,208.6L636.8,212.7L636.8,216.3L633.1,221.4L629.7,221.7L628.6,224.4L626.6,228.1L626.7,230.5L623.5,230.0L621.9,233.2L621.8,237.5L618.9,241.2L617.0,241.4L615.5,239.5L610.7,236.7L606.9,239.6L600.4,239.5L594.3,237.6L592.5,233.9L589.6,232.8L585.3,233.3L584.2,224.1L583.2,214.9L582.1,205.7L581.0,196.5Z" fill="#f2efee"/>
<path d="M544.6,190.7L547.3,192.2L551.5,190.7L553.7,189.1L560.3,188.5L566.8,187.8L573.3,187.1L579.9,186.3L580.0,187.4L581.0,196.5L582.1,205.7L583.2,214.9L584.2,224.1L585.3,233.3L585.2,236.0L586.2,238.6L581.0,241.0L578.2,240.8L577.9,244.1L575.6,248.8L574.2,249.5L572.3,254.5L566.3,251.6L564.5,254.4L561.3,256.9L556.7,260.0L550.0,257.2L545.5,258.3L543.9,260.8L544.8,254.8L546.8,249.6L549.4,244.6L547.1,237.3L548.3,232.7L547.4,222.2L546.4,211.7L545.5,201.2Z" fill="#053061"/>
<path d="M503.0,179.8L510.4,179.4L517.7,178.9L525.1,178.4L532.5,177.8L539.9,177.2L539.8,180.8L542.2,185.0L543.1,187.9L544.6,190.7L545.5,201.2L546.4,211.7L547.4,222.2L548.3,232.7L547.1,237.3L549.4,244.6L546.8,249.6L544.8,254.8L543.9,260.8L542.7,262.7L542.5,266.8L538.7,268.4L538.9,274.3L537.1,274.2L535.2,273.1L530.7,272.9L529.3,274.8L529.8,276.6L527.4,275.5L524.0,271.3L523.9,265.4L519.1,260.9L516.6,259.6L513.7,258.0L511.4,254.2L513.4,248.2L513.1,243.6L509.6,242.5L507.3,242.8L505.3,238.5L500.8,234.3L496.4,229.9L495.4,226.0L494.1,221.2L495.0,218.0L495.7,213.5L498.9,210.3L500.7,207.5L498.5,203.2L498.9,199.3L505.0,197.1L508.1,195.5L509.8,191.2L509.9,186.5L506.3,183.9Z" fill="#a7cfe4"/>
<path d="M482.4,106.3L487.4,105.4L492.1,103.0L495.7,101.3L497.5,102.2L496.6,107.5L501.9,107.8L505.8,111.6L512.1,113.0L518.4,114.3L522.3,116.1L527.2,116.4L531.0,117.2L531.5,119.6L535.0,121.3L534.6,126.6L537.4,126.7L536.4,129.5L538.4,131.1L536.7,133.9L534.3,139.0L534.0,141.2L537.1,138.3L540.6,134.8L542.6,129.8L545.5,126.9L544.1,132.3L542.0,136.9L540.6,142.2L539.3,148.9L539.2,155.0L537.6,161.5L537.8,167.7L539.8,173.1L539.9,177.2L532.5,177.8L525.1,178.4L517.7,178.9L510.4,179.4L503.0,179.8L497.0,175.2L496.2,170.4L494.9,162.5L494.2,157.2L489.1,153.0L483.9,147.4L477.5,144.3L474.0,141.2L474.4,135.0L475.5,129.7L472.5,126.2L474.5,120.9L479.5,117.5L479.1,107.3Z" fill="#f3efed"/>
<path d="M501.9,107.8L505.5,105.4L509.1,102.9L514.8,101.7L519.6,97.3L525.3,92.1L531.3,89.8L533.0,90.9L527.9,94.8L525.2,99.5L525.5,102.4L528.3,99.7L532.0,99.8L535.6,100.3L538.5,105.4L543.4,105.5L547.9,106.8L552.9,102.2L555.5,101.6L561.3,100.8L567.8,98.5L567.7,103.3L572.6,103.2L575.6,102.3L579.0,105.4L579.5,108.9L582.2,110.9L577.3,111.0L572.4,113.9L568.6,111.1L563.1,111.0L557.8,114.1L553.6,114.5L551.4,117.4L550.5,121.1L548.2,116.9L544.1,119.0L543.7,121.7L541.0,125.5L538.4,131.1L536.4,129.5L537.4,126.7L534.6,126.6L535.0,121.3L531.5,119.6L531.0,117.2L527.2,116.4L522.3,116.1L518.4,114.3L512.1,113.0L505.8,111.6ZM553.7,189.1L557.3,182.7L559.6,177.1L559.9,170.3L557.5,162.5L554.2,155.4L554.7,150.0L553.7,148.1L555.6,144.5L555.9,137.7L557.7,132.8L560.9,131.5L562.9,126.9L564.0,131.2L563.8,134.4L565.5,132.8L565.9,128.3L567.0,124.3L570.6,122.8L568.3,119.1L569.2,116.4L572.5,115.5L575.9,117.4L580.8,119.4L584.4,120.4L590.0,126.1L592.2,130.4L592.8,137.1L591.7,140.3L589.1,145.1L586.8,147.2L587.7,151.9L591.2,151.1L593.1,146.4L597.7,142.7L601.8,144.3L603.9,150.2L606.0,156.2L607.7,160.4L607.7,167.6L605.1,168.0L603.2,170.9L601.3,173.5L600.6,177.6L599.1,181.4L597.6,184.6L591.7,185.6L585.8,186.5L580.0,187.4L579.9,186.3L573.3,187.1L566.8,187.8L560.3,188.5ZM515.1,84.4L519.0,81.5L523.0,78.5L523.6,79.4L520.0,82.3L516.3,85.2ZM583.3,110.2L586.8,108.0L587.7,110.5L584.7,111.4ZM561.9,117.2L563.1,117.1L563.4,119.7L562.2,119.8Z" fill="#cae1ee"/>
<path d="M150.0,381.1L152.2,392.3L154.4,403.6L156.7,414.9L158.9,426.3L161.2,437.7L167.3,438.3L173.7,443.4L175.9,439.6L178.3,436.7L180.7,439.2L184.6,441.3L187.2,443.1L193.7,450.1L195.8,452.0L201.6,453.1L203.0,453.9L204.2,458.1L203.6,461.3L200.7,460.7L198.0,458.4L195.4,456.0L192.2,453.2L189.2,450.3L186.3,446.6L183.1,445.0L181.7,446.1L177.9,447.1L174.2,445.5L170.4,443.3L165.8,441.8L160.4,439.7L157.2,440.1L153.9,440.5L150.8,440.1L146.9,438.7L144.4,435.3L141.2,436.2L137.7,437.8L139.2,440.8L136.0,442.9L132.8,446.8L128.8,448.2L129.6,445.7L130.0,439.8L133.7,436.8L133.9,434.9L130.7,436.0L128.4,438.3L126.4,441.5L123.4,447.1L121.5,448.3L122.5,451.4L120.9,454.5L116.9,458.2L112.7,462.4L106.8,465.8L100.9,469.7L95.5,471.0L91.1,472.0L88.5,472.9L83.2,474.6L84.0,471.9L89.5,470.9L94.1,467.7L99.4,467.1L103.1,464.6L106.7,462.1L109.9,457.9L110.8,454.3L112.2,451.2L110.3,450.8L107.5,449.7L106.0,452.7L104.0,449.4L101.6,448.6L98.5,450.2L95.9,450.2L97.4,446.3L97.2,442.5L94.7,442.2L91.2,441.1L88.2,436.8L86.5,430.9L89.3,425.1L92.1,422.1L95.4,422.3L99.6,420.3L103.4,418.3L103.3,414.5L102.1,412.5L99.3,414.1L95.4,413.2L91.7,412.9L89.0,411.2L86.1,404.9L89.8,403.1L91.8,402.0L96.0,400.8L98.2,401.1L97.6,403.9L102.3,404.5L102.6,402.0L101.0,399.3L98.5,397.8L97.1,393.8L94.8,391.4L92.6,389.0L94.5,386.1L97.9,384.4L101.1,382.7L102.3,381.9L105.1,378.9L109.3,377.2L113.1,375.3L116.8,373.3L118.8,374.8L120.8,376.3L123.4,376.4L126.0,376.5L127.1,378.9L130.3,379.1L133.5,379.1L136.1,379.5L138.9,379.8L141.4,379.5L144.0,379.2L146.9,380.2ZM120.8,462.0L124.2,460.7L127.5,459.4L128.0,456.3L125.7,453.3L123.1,456.4L119.5,458.9ZM192.6,463.4L197.7,463.1L197.5,459.2L192.5,455.0L189.7,456.6ZM182.2,454.9L187.1,457.4L186.3,452.4L183.2,447.6L178.6,448.2ZM81.1,438.0L84.9,441.3L86.3,438.4L84.4,437.4ZM73.3,415.8L77.8,418.2L81.5,418.4L79.5,416.1L75.9,414.5ZM82.6,473.6L88.0,473.8L88.9,472.3L83.7,471.2ZM71.1,479.5L77.4,478.3L77.1,476.0L74.1,476.1L70.7,477.9ZM65.7,481.5L71.1,479.8L70.7,477.9L66.5,479.8ZM58.8,481.4L61.6,481.1L61.4,480.1L59.1,480.2ZM51.7,481.4L53.6,481.6L53.5,480.9L52.0,480.5ZM42.2,480.0L47.1,480.9L47.3,479.1L43.5,478.5ZM34.9,480.1L37.3,480.0L37.5,478.4L35.5,478.3ZM30.5,478.5L33.1,479.1L33.3,477.5L31.1,477.0ZM26.2,478.8L28.3,478.9L28.4,477.6L26.7,477.6ZM18.5,475.2L21.7,475.6L21.7,474.6L19.0,474.1ZM14.8,470.2L17.2,470.6L17.2,469.5L15.3,469.1ZM2.7,461.1L4.6,461.7L4.7,460.7L3.3,460.1ZM1.2,456.7L4.3,458.1L4.4,457.1L2.2,455.8Z" fill="#f8ebe4"/>
<path d="M287.4,457.5L291.8,460.1L296.8,461.8L300.5,466.5L302.2,468.8L305.0,470.5L301.9,473.9L296.9,475.9L293.5,477.6L290.6,481.4L286.9,478.4L286.5,474.5L286.3,471.0L284.1,467.0L286.8,463.1L288.0,461.5ZM273.8,447.0L274.0,444.7L275.9,444.3L277.3,446.4L280.9,445.5L285.4,448.9L282.9,451.1L277.8,451.7L276.8,448.4L274.8,448.2ZM273.5,452.9L276.0,451.7L276.5,453.1L274.3,453.4ZM267.5,446.4L270.1,446.1L271.8,447.8L270.5,449.2L267.7,448.2ZM263.3,442.9L264.3,440.8L268.5,441.2L273.3,441.9L271.0,443.8L266.8,443.3ZM247.3,434.5L252.3,432.2L255.2,436.8L257.7,439.2L255.1,440.3L252.4,439.0L250.1,439.4L248.1,436.6ZM227.2,422.9L230.5,424.7L230.0,427.9L228.0,429.2L224.7,428.7L222.4,426.4L223.9,424.0ZM214.8,430.3L217.3,426.5L218.1,427.2L215.9,430.7Z" fill="#16508c"/>
</g>
</svg>
</body></html>
